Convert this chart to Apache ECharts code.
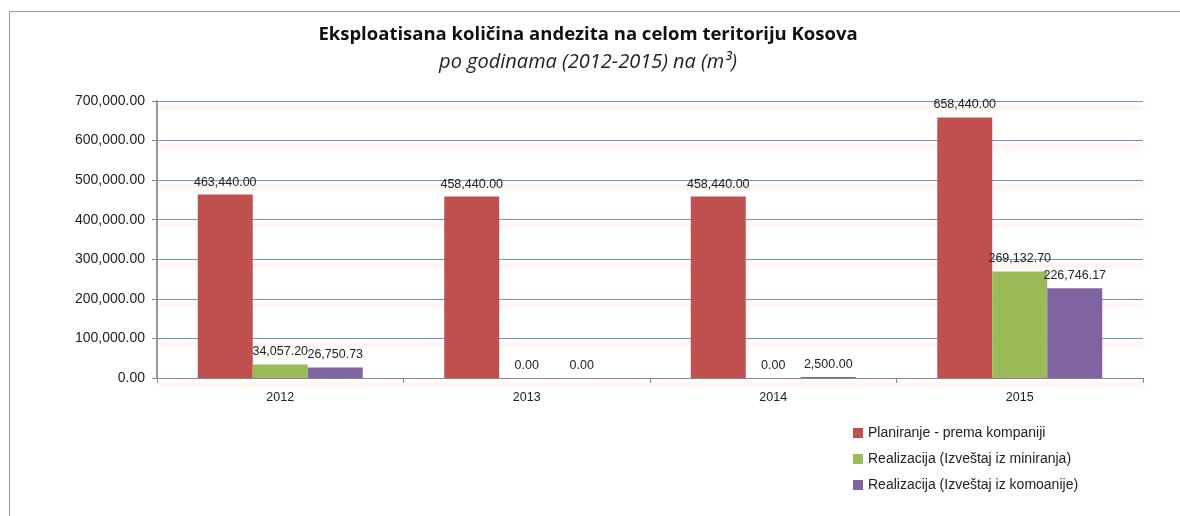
<!DOCTYPE html>
<html>
<head>
<meta charset="utf-8">
<script src="https://cdn.jsdelivr.net/npm/echarts@6/dist/echarts.min.js"></script>
<style>
  html, body { margin: 0; padding: 0; background: #fff; }
  #frame { position: absolute; left: 9px; top: 11px; width: 1171px; height: 505px;
           border-top: 1px solid #9a9a9a; border-left: 1px solid #9a9a9a; }
  #chart { position: absolute; left: 0; top: 0; width: 1180px; height: 516px; }
</style>
</head>
<body>
<div id="frame"></div>
<div id="chart"></div>
<script>
// kategorije i vrijednosti (m3)
const years = ['2012', '2013', '2014', '2015']
const seriesNames = [
  'Planiranje - prema kompaniji',
  'Realizacija (Izveštaj iz miniranja)',
  'Realizacija (Izveštaj iz komoanije)'
]
const planiranje = [463440.00, 458440.00, 458440.00, 658440.00]
const miniranje = [34057.20, 0.00, 0.00, 269132.70]
const komoanije = [26750.73, 0.00, 2500.00, 226746.17]
const colors = ['#c0504d', '#9bbb59', '#8064a2']

const fmt = v => Number(v).toLocaleString('en-US', { minimumFractionDigits: 2, maximumFractionDigits: 2 })

const chart = echarts.init(document.getElementById('chart'))

function bar(name, data, color) {
  return {
    type: 'bar',
    name: name,
    data: data,
    barWidth: 55,
    barGap: '0%',
    itemStyle: { color: color },
    label: {
      show: true,
      position: 'top',
      distance: 6,
      color: '#222',
      fontFamily: 'Liberation Sans',
      fontSize: 12.5,
      formatter: p => fmt(p.value)
    }
  }
}

chart.setOption({
  animation: false,
  textStyle: { fontFamily: 'Liberation Sans' },
  color: colors,
  title: {
    text: 'Eksploatisana količina andezita na celom teritoriju Kosova',
    subtext: 'po godinama (2012-2015) na (m³)',
    left: 583,
    textAlign: 'center',
    top: 20,
    itemGap: 8,
    textStyle: { fontFamily: 'Open Sans', fontSize: 18.5, fontWeight: 'bold', color: '#111' },
    subtextStyle: { fontFamily: 'Open Sans', fontSize: 20, fontStyle: 'italic', color: '#222' }
  },
  grid: { left: 157, right: 37, top: 101, bottom: 138 },
  legend: {
    orient: 'vertical',
    left: 848,
    top: 421,
    itemWidth: 10,
    itemHeight: 10,
    itemGap: 12,
    icon: 'rect',
    textStyle: { fontFamily: 'Liberation Sans', fontSize: 14, color: '#222' },
    data: seriesNames
  },
  xAxis: {
    type: 'category',
    data: years,
    axisLine: { lineStyle: { color: '#888' } },
    axisTick: { show: true, length: 5, lineStyle: { color: '#888' } },
    axisLabel: { color: '#222', fontSize: 12.5, margin: 13 }
  },
  yAxis: {
    type: 'value',
    min: 0,
    max: 700000,
    interval: 100000,
    axisLine: { show: true, lineStyle: { color: '#999', width: 2 } },
    axisTick: { show: true, length: 5, lineStyle: { color: '#888' } },
    axisLabel: { color: '#222', fontSize: 14, margin: 12, formatter: v => fmt(v) },
    splitLine: {
      lineStyle: {
        color: '#6f95cc',
        width: 1.2,
        shadowColor: 'rgba(255,180,140,0.7)',
        shadowBlur: 4,
        shadowOffsetY: 6
      }
    }
  },
  series: [
    bar(seriesNames[0], planiranje, colors[0]),
    bar(seriesNames[1], miniranje, colors[1]),
    bar(seriesNames[2], komoanije, colors[2])
  ]
})
</script>
</body>
</html>
